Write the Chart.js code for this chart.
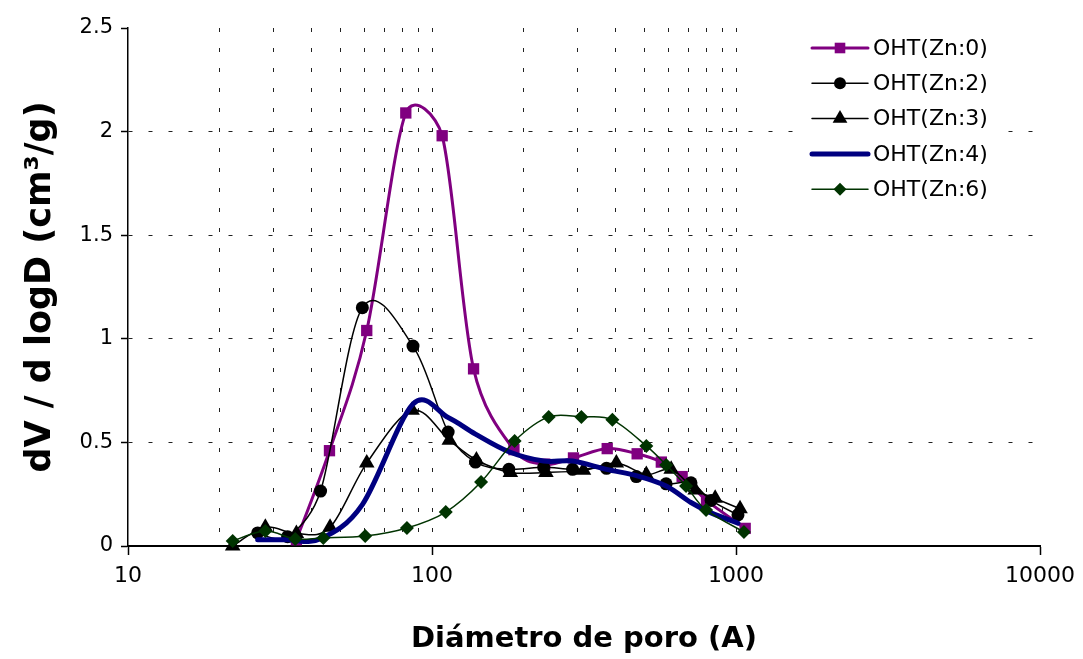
<!DOCTYPE html>
<html>
<head>
<meta charset="utf-8">
<script src="https://cdn.jsdelivr.net/npm/chart.js@4.4.1/dist/chart.umd.min.js"></script>
<style>
  html, body { margin: 0; padding: 0; background: #fff; }
  #wrap { width: 1083px; height: 659px; }
</style>
</head>
<body>
<div id="wrap"><canvas id="chart"></canvas></div>
<script>
// pore diameter (A) and dV/dlogD for each sample
const zn0X = [35.8, 46, 61, 82, 108, 137, 186, 235, 292, 377, 473, 568, 665, 800, 1072];
const zn0Y = [0.03, 0.46, 1.04, 2.09, 1.98, 0.855, 0.465, 0.395, 0.425, 0.47, 0.445, 0.405, 0.335, 0.22, 0.085];

const zn2X = [26.7, 33.5, 43, 59, 86.6, 113, 139, 179, 233, 290, 375, 470, 589, 711, 828, 1015];
const zn2Y = [0.063, 0.045, 0.265, 1.15, 0.965, 0.55, 0.405, 0.37, 0.38, 0.37, 0.375, 0.335, 0.30, 0.305, 0.22, 0.15];

const zn3X = [22.1, 28.3, 35.8, 46.2, 61, 86, 114, 140, 181, 237, 315, 404, 507, 612, 734, 854, 1031];
const zn3Y = [0.0, 0.09, 0.06, 0.09, 0.40, 0.655, 0.51, 0.415, 0.355, 0.355, 0.365, 0.40, 0.345, 0.37, 0.27, 0.23, 0.18];

const zn4X = [26.7, 33.5, 43, 59, 86.6, 113, 139, 179, 233, 290, 375, 470, 589, 711, 828, 1015];
const zn4Y = [0.03, 0.03, 0.035, 0.2, 0.685, 0.62, 0.54, 0.455, 0.41, 0.41, 0.37, 0.34, 0.29, 0.21, 0.16, 0.11];

const zn6X = [22.1, 28.3, 35.5, 43.9, 60.3, 82.7, 111, 145, 187, 242, 310, 392, 507, 589, 685, 797, 1062];
const zn6Y = [0.024, 0.072, 0.034, 0.039, 0.048, 0.087, 0.164, 0.309, 0.507, 0.623, 0.623, 0.609, 0.483, 0.391, 0.29, 0.174, 0.068];

const seriesLabels = ['OHT(Zn:0)', 'OHT(Zn:2)', 'OHT(Zn:3)', 'OHT(Zn:4)', 'OHT(Zn:6)'];

const xTickValues = [10, 20, 30, 40, 50, 60, 70, 80, 90, 100, 200, 300, 400, 500, 600, 700, 800, 900,
  1000, 2000, 3000, 4000, 5000, 6000, 7000, 8000, 9000, 10000];
const xLabelValues = [10, 100, 1000, 10000];
const yTickStep = 0.5;

const pts = (xs, ys) => xs.map((x, i) => ({ x: x, y: ys[i] }));
const clear = 'rgba(0,0,0,0)';

// spreadsheet style smoothing: control points at +-(next - prev) / 6,
// each arm kept to half of the segment it belongs to
const excelSmooth = {
  id: 'excelSmooth',
  beforeDatasetsDraw(chart) {
    chart.data.datasets.forEach((ds, i) => {
      const meta = chart.getDatasetMeta(i);
      const p = meta.data;
      for (let k = 0; k < p.length; k++) {
        const prev = p[Math.max(k - 1, 0)];
        const next = p[Math.min(k + 1, p.length - 1)];
        const dx = (next.x - prev.x) / 6;
        const dy = (next.y - prev.y) / 6;
        const arm = Math.hypot(dx, dy) || 1;
        const segPrev = Math.hypot(p[k].x - prev.x, p[k].y - prev.y);
        const segNext = Math.hypot(next.x - p[k].x, next.y - p[k].y);
        const s1 = Math.min(1, (0.5 * segPrev) / arm);
        const s2 = Math.min(1, (0.5 * segNext) / arm);
        p[k].cp1x = p[k].x - dx * s1;
        p[k].cp1y = p[k].y - dy * s1;
        p[k].cp2x = p[k].x + dx * s2;
        p[k].cp2y = p[k].y + dy * s2;
      }
      meta.dataset._pointsUpdated = true;
    });
  }
};

// legend with line + marker, like the spreadsheet one
const sideLegend = {
  id: 'sideLegend',
  afterDraw(chart) {
    const ctx = chart.ctx;
    ctx.save();
    ctx.fillStyle = '#fff';
    ctx.fillRect(806, 30, 200, 176);
    chart.data.datasets.forEach((ds, i) => {
      const y = 48 + i * 35.3;
      ctx.strokeStyle = ds.borderColor;
      ctx.lineWidth = ds.borderWidth;
      ctx.lineCap = 'round';
      ctx.beginPath();
      ctx.moveTo(812, y);
      ctx.lineTo(868, y);
      ctx.stroke();
      if (ds.pointRadius > 0) {
        ctx.fillStyle = ds.pointBackgroundColor;
        Chart.helpers.drawPoint(ctx, {
          pointStyle: ds.pointStyle, radius: ds.pointRadius - 0.5, rotation: 0, borderWidth: 0
        }, 840, y);
      }
      ctx.fillStyle = '#000';
      ctx.font = '22px "DejaVu Sans"';
      ctx.textBaseline = 'middle';
      ctx.textAlign = 'left';
      ctx.fillText(ds.label, 873, y + 1);
    });
    ctx.restore();
  }
};

Chart.defaults.font.family = '"DejaVu Sans", Verdana, sans-serif';
Chart.defaults.color = '#000';

const ctx = document.getElementById('chart').getContext('2d');
new Chart(ctx, {
  type: 'line',
  data: {
    datasets: [
      {
        label: seriesLabels[0],
        data: pts(zn0X, zn0Y),
        borderColor: '#800080',
        backgroundColor: '#800080',
        borderWidth: 3,
        pointStyle: 'rect',
        pointRadius: 8,
        pointBackgroundColor: '#800080',
        pointBorderWidth: 0,
        order: 5,
      },
      {
        label: seriesLabels[1],
        data: pts(zn2X, zn2Y),
        borderColor: '#000',
        backgroundColor: '#000',
        borderWidth: 1.5,
        pointStyle: 'circle',
        pointRadius: 6.5,
        pointBackgroundColor: '#000',
        pointBorderWidth: 0,
        order: 4,
      },
      {
        label: seriesLabels[2],
        data: pts(zn3X, zn3Y),
        borderColor: '#000',
        backgroundColor: '#000',
        borderWidth: 1.5,
        pointStyle: 'triangle',
        pointRadius: 9,
        pointBackgroundColor: '#000',
        pointBorderWidth: 0,
        order: 3,
      },
      {
        label: seriesLabels[3],
        data: pts(zn4X, zn4Y),
        borderColor: '#000080',
        backgroundColor: '#000080',
        borderWidth: 5,
        borderCapStyle: 'round',
        pointRadius: 0,
        order: 2,
      },
      {
        label: seriesLabels[4],
        data: pts(zn6X, zn6Y),
        borderColor: '#003300',
        backgroundColor: '#003300',
        borderWidth: 1.5,
        pointStyle: 'rectRot',
        pointRadius: 7,
        pointBackgroundColor: '#003300',
        pointBorderWidth: 0,
        order: 1,
      },
    ],
  },
  options: {
    responsive: true,
    maintainAspectRatio: false,
    animation: false,
    devicePixelRatio: 1,
    layout: { padding: { top: 28, right: 40, left: 0, bottom: 0 } },
    elements: { line: { tension: 0.3 } },
    datasets: { line: { clip: false } },
    plugins: { legend: { display: false }, tooltip: { enabled: false } },
    scales: {
      x: {
        type: 'logarithmic',
        min: 10,
        max: 10000,
        afterBuildTicks: (scale) => {
          scale.ticks = xTickValues.map((v) => ({ value: v }));
        },
        afterFit: (scale) => { scale.height = 113; },
        ticks: {
          autoSkip: false,
          maxRotation: 0,
          padding: 8,
          font: { size: 22 },
          callback: (v) => (xLabelValues.includes(v) ? String(v) : ''),
        },
        grid: {
          color: (c) => (c.tick && c.tick.value > 10 && c.tick.value <= 1000 ? '#222' : clear),
          tickColor: (c) => (c.tick && xLabelValues.includes(c.tick.value) ? '#000' : clear),
          tickLength: 9,
          tickWidth: 1.5,
          tickBorderDash: [],
        },
        border: { color: '#000', width: 2, dash: [4, 16] },
        title: {
          display: true,
          text: 'Diámetro de poro (A)',
          font: { size: 29, weight: 'bold' },
          padding: { top: 0, bottom: 2 },
        },
      },
      y: {
        min: 0,
        max: 2.5,
        afterFit: (scale) => { scale.width = 128; },
        ticks: {
          stepSize: yTickStep,
          padding: 8,
          font: { size: 21 },
          callback: (v) => String(v),
        },
        grid: {
          color: (c) => (c.tick && c.tick.value > 0 && c.tick.value < 2.5 ? '#222' : clear),
          tickColor: '#000',
          tickLength: 7,
          tickWidth: 1.5,
          tickBorderDash: [],
        },
        border: { color: '#000', width: 1.5, dash: [4, 16] },
        title: {
          display: true,
          text: 'dV / d logD (cm³/g)',
          font: { size: 35, weight: 'bold' },
          padding: { top: 20, bottom: 0 },
        },
      },
    },
  },
  plugins: [excelSmooth, sideLegend],
});
</script>
</body>
</html>
